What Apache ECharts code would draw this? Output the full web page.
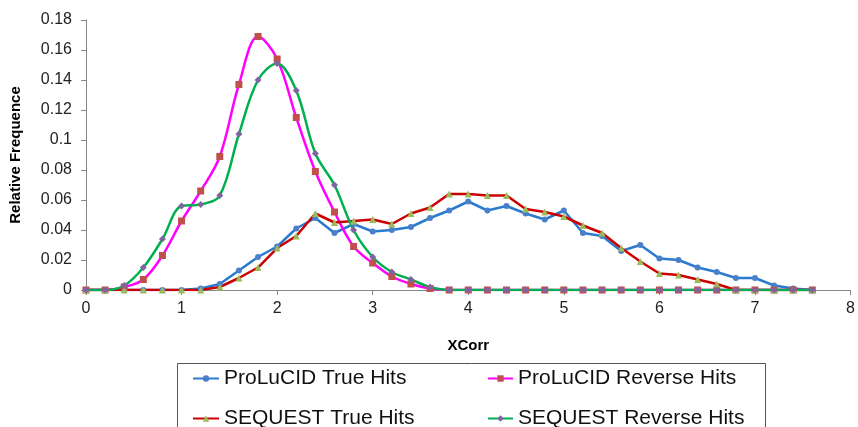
<!DOCTYPE html>
<html>
<head>
<meta charset="utf-8">
<script src="https://cdn.jsdelivr.net/npm/echarts@6/dist/echarts.min.js"></script>
<style>
  html, body { margin: 0; padding: 0; background: #fff; }
  #chart { width: 858px; height: 427px; }
</style>
</head>
<body>
<div id="chart"></div>
<script>
// XCorr bins, 0 .. 7.6 step 0.2
const xcorr = [0, 0.2, 0.4, 0.6, 0.8, 1, 1.2, 1.4, 1.6, 1.8, 2, 2.2, 2.4, 2.6, 2.8, 3, 3.2, 3.4, 3.6, 3.8,
  4, 4.2, 4.4, 4.6, 4.8, 5, 5.2, 5.4, 5.6, 5.8, 6, 6.2, 6.4, 6.6, 6.8, 7, 7.2, 7.4, 7.6];

const prolucidTrue = [0, 0, 0, 0, 0, 0, 0.001, 0.004, 0.013, 0.022, 0.029, 0.041, 0.048, 0.038, 0.044, 0.039,
  0.040, 0.042, 0.048, 0.053, 0.059, 0.053, 0.056, 0.051, 0.047, 0.053, 0.038, 0.036, 0.026, 0.030,
  0.021, 0.020, 0.015, 0.012, 0.008, 0.008, 0.003, 0.001, 0];
const prolucidReverse = [0, 0, 0.002, 0.007, 0.023, 0.046, 0.066, 0.089, 0.137, 0.169, 0.154, 0.115, 0.079,
  0.052, 0.029, 0.018, 0.009, 0.004, 0.001, 0, 0, 0, 0, 0, 0, 0, 0, 0, 0, 0, 0, 0, 0, 0, 0, 0, 0, 0, 0];
const sequestTrue = [0, 0, 0, 0, 0, 0, 0, 0.002, 0.008, 0.015, 0.028, 0.036, 0.051, 0.045, 0.046, 0.047,
  0.044, 0.051, 0.055, 0.064, 0.064, 0.063, 0.063, 0.054, 0.052, 0.049, 0.043, 0.038, 0.028, 0.019,
  0.011, 0.010, 0.007, 0.004, 0, 0, 0, 0, 0];
const sequestReverse = [0, 0, 0.003, 0.015, 0.034, 0.056, 0.057, 0.063, 0.104, 0.140, 0.151, 0.133, 0.091,
  0.070, 0.040, 0.022, 0.012, 0.007, 0.002, 0, 0, 0, 0, 0, 0, 0, 0, 0, 0, 0, 0, 0, 0, 0, 0, 0, 0, 0, 0];

const pairs = (ys) => xcorr.map((x, i) => [x, ys[i]]);
const font = "'Liberation Sans', Arial, sans-serif";
const legendText = { fontSize: 21, color: "#111", fontFamily: font };

const chart = echarts.init(document.getElementById("chart"));
chart.setOption({
  animation: false,
  textStyle: { fontFamily: font },
  grid: { left: 82, right: 6, top: 20, bottom: 137 },
  xAxis: {
    type: "value", min: 0, max: 8, interval: 1,
    name: "XCorr", nameLocation: "middle", nameGap: 48,
    nameTextStyle: { fontWeight: "bold", fontSize: 15, color: "#000" },
    axisLine: { lineStyle: { color: "#888" } },
    axisTick: { show: true, length: 5, lineStyle: { color: "#888" } },
    axisLabel: { fontSize: 16, color: "#222", margin: 11 },
    splitLine: { show: false }
  },
  yAxis: {
    type: "value", min: 0, max: 0.18, interval: 0.02,
    name: "Relative Frequence", nameLocation: "middle", nameGap: 63,
    nameTextStyle: { fontWeight: "bold", fontSize: 15, color: "#000" },
    axisLine: { show: true, lineStyle: { color: "#888" } },
    axisTick: { show: true, length: 5, lineStyle: { color: "#888" } },
    axisLabel: { fontSize: 16, color: "#222", margin: 14 },
    splitLine: { show: false }
  },
  graphic: [{
    type: "rect", left: 175, top: 361,
    shape: { width: 588, height: 80 },
    style: { fill: "none", stroke: "#555", lineWidth: 1 }
  }],
  legend: [
    { data: ["ProLuCID True Hits", "SEQUEST True Hits"], orient: "vertical",
      left: 192, top: 368, height: 100, padding: 0,
      itemWidth: 26, itemHeight: 8, itemGap: 19, textStyle: legendText },
    { data: ["ProLuCID Reverse Hits", "SEQUEST Reverse Hits"], orient: "vertical",
      left: 487, top: 368, height: 100, padding: 0,
      itemWidth: 25, itemHeight: 8, itemGap: 19, textStyle: legendText }
  ],
  series: [
    { name: "ProLuCID True Hits", type: "line", data: pairs(prolucidTrue),
      symbol: "circle", symbolSize: 6,
      lineStyle: { color: "#2a7bd0", width: 2.5 }, itemStyle: { color: "#4a80c8" } },
    { name: "ProLuCID Reverse Hits", type: "line", data: pairs(prolucidReverse), smooth: 0.35,
      symbol: "rect", symbolSize: 7,
      lineStyle: { color: "#ff00ff", width: 2.5 }, itemStyle: { color: "#c0504d" } },
    { name: "SEQUEST True Hits", type: "line", data: pairs(sequestTrue),
      symbol: "triangle", symbolSize: 7,
      lineStyle: { color: "#cc0000", width: 2.5 }, itemStyle: { color: "#9bbb59" } },
    { name: "SEQUEST Reverse Hits", type: "line", data: pairs(sequestReverse), smooth: 0.35,
      symbol: "diamond", symbolSize: 7,
      lineStyle: { color: "#00b050", width: 2.5 }, itemStyle: { color: "#8064a2" } }
  ]
});
</script>
</body>
</html>
